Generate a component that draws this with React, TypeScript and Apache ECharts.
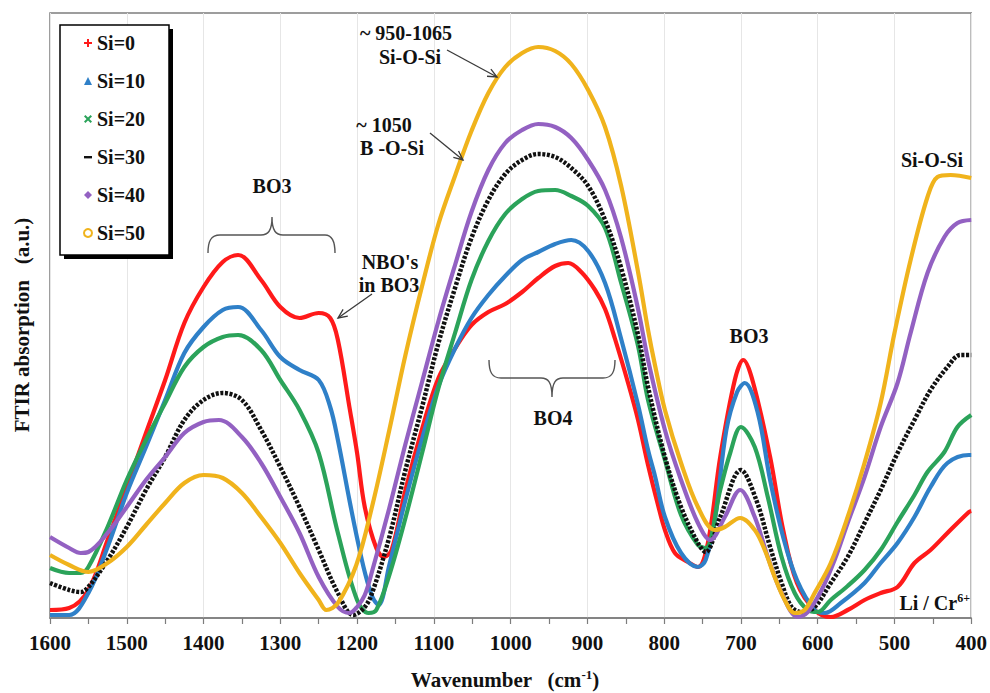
import React, { useEffect, useRef } from 'react';
import * as echarts from 'echarts';

// ---------- data (wavenumber cm-1, absorption a.u.) ----------
const seriesNames = ['Si=0', 'Si=10', 'Si=20', 'Si=30', 'Si=40', 'Si=50'];
const seriesColors = ['#ff1a1a', '#2f80c8', '#2ba35a', '#111111', '#9361c2', '#f0b31c'];

const si0: [number, number][] = [
  [1600, 0.8], [1575, 1.0], [1550, 2.8], [1525, 7.8], [1500, 13.1], [1475, 18.5], [1450, 23.8],
  [1425, 29.5], [1400, 33.1], [1375, 35.6], [1355, 36.3], [1325, 33.8], [1300, 31.1], [1275, 30.0],
  [1250, 30.5], [1235, 30.0], [1225, 27.8], [1210, 21.1], [1200, 16.5], [1190, 11.1], [1175, 7.0],
  [1165, 6.1], [1155, 6.8], [1137, 12.8], [1115, 19.0], [1094, 24.0], [1072, 27.0], [1051, 29.3],
  [1029, 30.6], [1007, 31.4], [985, 32.6], [964, 34.0], [942, 35.2], [925, 35.5], [908, 34.6],
  [890, 32.8], [877, 30.9], [864, 27.9], [847, 23.5], [834, 19.8], [821, 15.3], [808, 11.3],
  [799, 8.8], [786, 6.5], [769, 5.6], [756, 5.1], [743, 7.5], [727, 16.1], [708, 23.8], [697, 25.8],
  [684, 23.5], [662, 16.1], [645, 8.8], [627, 3.5], [604, 0.8], [583, 0.1], [561, 0.8], [539, 1.8],
  [518, 2.5], [496, 3.1], [474, 5.5], [453, 6.8], [431, 8.5], [403, 10.6], [400, 10.7],
];

const si10: [number, number][] = [
  [1600, 0.3], [1575, 0.3], [1550, 2.5], [1525, 7.1], [1500, 12.5], [1475, 17.1], [1450, 21.8],
  [1425, 26.5], [1400, 29.1], [1375, 30.8], [1355, 31.1], [1325, 28.8], [1300, 26.1], [1275, 24.8],
  [1250, 23.8], [1235, 21.1], [1225, 17.8], [1210, 11.8], [1200, 8.0], [1190, 4.6], [1180, 2.1],
  [1172, 1.3], [1158, 5.3], [1137, 11.8], [1115, 18.0], [1094, 23.2], [1072, 27.0], [1051, 30.0],
  [1029, 32.3], [1007, 34.2], [985, 35.8], [964, 36.6], [942, 37.4], [921, 37.8], [899, 36.7],
  [877, 33.5], [856, 27.9], [834, 21.3], [821, 16.8], [812, 14.2], [799, 10.1], [778, 6.5],
  [756, 5.1], [746, 5.8], [734, 9.8], [719, 18.8], [705, 22.6], [695, 23.5], [678, 20.5],
  [662, 13.8], [645, 8.1], [627, 3.8], [604, 0.8], [591, 0.5], [570, 1.5], [539, 3.5], [518, 5.5],
  [496, 7.5], [474, 10.1], [453, 13.1], [431, 15.5], [403, 16.3], [400, 16.3],
];

const si20: [number, number][] = [
  [1600, 5.0], [1575, 4.5], [1560, 4.5], [1550, 5.1], [1525, 9.1], [1500, 13.8], [1475, 17.8],
  [1450, 21.5], [1425, 25.1], [1400, 27.1], [1375, 28.1], [1355, 28.3], [1325, 26.8], [1300, 23.8],
  [1275, 20.8], [1250, 16.5], [1225, 8.5], [1200, 1.8], [1185, 0.5], [1175, 0.8], [1158, 4.3],
  [1137, 10.0], [1115, 16.6], [1094, 23.0], [1072, 28.6], [1051, 33.8], [1029, 37.7], [1007, 40.4],
  [985, 41.9], [964, 42.7], [942, 42.8], [921, 42.2], [899, 41.2], [877, 39.0], [856, 33.5],
  [834, 27.2], [821, 21.8], [799, 15.8], [778, 10.3], [756, 7.3], [746, 7.0], [727, 12.8],
  [714, 16.5], [700, 19.1], [682, 17.1], [665, 12.1], [647, 6.1], [630, 2.5], [613, 0.8],
  [600, 0.6], [583, 1.8], [561, 3.2], [539, 4.8], [518, 6.8], [496, 9.6], [474, 12.3], [457, 14.6],
  [435, 16.6], [418, 19.1], [400, 20.3],
];

const si30: [number, number][] = [
  [1600, 3.5], [1575, 2.8], [1560, 2.6], [1550, 3.1], [1525, 5.8], [1500, 9.1], [1475, 12.8],
  [1450, 16.1], [1425, 19.8], [1400, 21.8], [1375, 22.5], [1350, 21.8], [1325, 18.8], [1300, 15.1],
  [1275, 11.1], [1250, 6.8], [1225, 2.5], [1205, 0.3], [1190, 1.1], [1180, 2.6], [1158, 8.1],
  [1137, 14.8], [1115, 21.2], [1094, 27.5], [1072, 33.1], [1051, 38.0], [1029, 41.8], [1007, 44.4],
  [985, 45.8], [964, 46.4], [942, 46.1], [921, 45.0], [899, 43.2], [877, 39.8], [856, 35.0],
  [834, 28.3], [821, 23.1], [799, 16.1], [778, 11.1], [756, 7.5], [746, 6.6], [727, 10.1],
  [700, 14.8], [680, 11.8], [662, 7.1], [647, 3.5], [634, 1.1], [621, 0.6], [604, 1.1], [583, 3.5],
  [561, 6.1], [539, 9.5], [518, 12.8], [496, 16.5], [474, 19.8], [453, 22.8], [431, 25.1],
  [414, 26.3], [400, 26.3],
];

const si40: [number, number][] = [
  [1600, 8.1], [1575, 7.0], [1560, 6.5], [1550, 6.6], [1525, 8.5], [1500, 11.1], [1475, 13.8],
  [1450, 16.1], [1425, 18.5], [1400, 19.6], [1380, 19.8], [1350, 18.1], [1325, 15.5], [1300, 12.1],
  [1275, 8.5], [1250, 4.1], [1225, 1.1], [1210, 0.5], [1200, 1.1], [1190, 2.3], [1180, 4.8],
  [1158, 11.0], [1137, 17.4], [1115, 23.7], [1094, 29.7], [1072, 35.4], [1051, 40.6], [1029, 44.8],
  [1007, 47.5], [985, 48.8], [964, 49.4], [942, 49.1], [921, 48.0], [899, 45.8], [877, 42.8],
  [856, 38.0], [834, 30.9], [821, 25.8], [799, 18.8], [778, 13.8], [756, 9.5], [740, 7.8],
  [721, 10.1], [701, 12.8], [682, 10.1], [665, 6.1], [647, 2.5], [626, 0.1], [613, 0.6], [595, 2.8],
  [578, 5.8], [561, 9.5], [539, 14.1], [518, 19.1], [496, 23.5], [479, 28.5], [457, 34.5],
  [435, 38.1], [418, 39.5], [400, 39.8],
];

const si50: [number, number][] = [
  [1600, 6.3], [1575, 5.3], [1550, 4.6], [1525, 5.5], [1500, 7.1], [1475, 9.3], [1450, 11.5],
  [1425, 13.5], [1400, 14.3], [1375, 14.0], [1350, 12.5], [1325, 10.1], [1300, 7.5], [1275, 4.5],
  [1250, 1.8], [1240, 0.8], [1225, 1.5], [1201, 5.3], [1180, 11.3], [1158, 18.8], [1137, 26.3],
  [1115, 33.3], [1094, 39.4], [1072, 44.3], [1051, 48.7], [1029, 52.5], [1007, 55.1], [985, 56.5],
  [964, 57.1], [942, 56.7], [921, 55.4], [899, 52.8], [877, 49.1], [856, 43.2], [834, 34.6],
  [821, 28.8], [812, 25.3], [799, 20.8], [778, 15.5], [756, 11.1], [734, 8.8], [721, 9.1],
  [701, 10.0], [682, 8.8], [669, 6.8], [656, 4.1], [643, 1.8], [630, 0.5], [617, 0.8], [604, 2.5],
  [583, 5.5], [561, 10.1], [539, 15.5], [518, 21.5], [500, 28.5], [479, 35.8], [457, 42.1],
  [444, 44.1], [427, 44.3], [400, 44.0],
];

const seriesData = [si0, si10, si20, si30, si40, si50];

const xMin = 400;
const xMax = 1600;
const xStep = 100;
const yMax = 60.5;

// ---------- styling ----------
const SERIF = 'Liberation Serif';
const legendIcons = [
  'path://M3,0h2v3h3v2h-3v3h-2v-3h-3v-2h3z',
  'triangle',
  'path://M0,1.4L1.4,0L4,2.6L6.6,0L8,1.4L5.4,4L8,6.6L6.6,8L4,5.4L1.4,8L0,6.6L2.6,4z',
  'path://M0,0L0,0M0,3h8v2.4h-8zM8,8L8,8',
  'diamond',
  'emptyCircle',
];

let shapesRegistered = false;
function registerShapes() {
  if (shapesRegistered) return;
  shapesRegistered = true;
  echarts.graphic.registerShape(
    'braceDown',
    echarts.graphic.extendPath(
      'M208,253 C208,241 211,235 220,235 L261,235 C268,235 272,231 272,217 C272,231 276,235 283,235 L325,235 C332,235 335,241 335,253',
      {}
    )
  );
  echarts.graphic.registerShape(
    'braceUp',
    echarts.graphic.extendPath(
      'M489,360 C489,372 492,378 501,378 L541,378 C548,378 552,382 552,397 C552,382 556,378 563,378 L603,378 C612,378 615,372 615,360',
      {}
    )
  );
}

function arrow(x1: number, y1: number, x2: number, y2: number) {
  const a = Math.atan2(y2 - y1, x2 - x1);
  const len = 10;
  const spread = 0.42;
  const p1 = [x2 - len * Math.cos(a - spread), y2 - len * Math.sin(a - spread)];
  const p2 = [x2 - len * Math.cos(a + spread), y2 - len * Math.sin(a + spread)];
  const stroke = { stroke: '#3a3a3a', lineWidth: 1.3, fill: 'none' };
  return [
    { type: 'line', shape: { x1, y1, x2, y2 }, style: stroke, z: 20 },
    { type: 'polyline', shape: { points: [p1, [x2, y2], p2] }, style: stroke, z: 20 },
  ];
}

function label(text: string, x: number, y: number, align = 'center', size = 20) {
  return {
    type: 'text',
    x,
    y,
    z: 20,
    style: {
      text,
      fontSize: size,
      fontWeight: 'bold',
      fontFamily: SERIF,
      fill: '#111',
      align,
      verticalAlign: 'middle',
      textAlign: align,
      textVerticalAlign: 'middle',
    },
  };
}

export default function App() {
  const ref = useRef<HTMLDivElement>(null);

  useEffect(() => {
    if (!ref.current) return;
    registerShapes();
    const chart = echarts.init(ref.current, undefined, { renderer: 'svg' });

    const series = seriesNames.map((name, i) => ({
      name,
      type: 'line',
      data: seriesData[i],
      smooth: 0.35,
      showSymbol: false,
      symbol: 'none',
      color: seriesColors[i],
      lineStyle: {
        color: seriesColors[i],
        width: i === 3 ? 4.5 : 4.2,
        type: i === 3 ? [3, 1.6] : 'solid',
      },
      emphasis: { disabled: true },
      z: 3 + i,
    }));

    const graphic: any[] = [
      // legend frame with shadow
      { type: 'rect', shape: { x: 64, y: 29, width: 109, height: 230 }, style: { fill: '#000' }, z: 1 },
      {
        type: 'rect',
        shape: { x: 60, y: 25, width: 109, height: 230 },
        style: { fill: '#fff', stroke: '#000', lineWidth: 1.5 },
        z: 2,
      },
      // braces
      { type: 'braceDown', x: 0, y: 0, style: { stroke: '#555', lineWidth: 1.4, fill: 'none' }, z: 20 },
      { type: 'braceUp', x: 0, y: 0, style: { stroke: '#555', lineWidth: 1.4, fill: 'none' }, z: 20 },
      label('BO3', 272, 186),
      label("NBO's", 390, 262),
      label('in BO3', 389, 285),
      label('~ 950-1065', 406, 33),
      label('Si-O-Si', 410, 57),
      label('~ 1050', 384, 125),
      label('B -O-Si', 392, 148),
      label('BO4', 553, 418),
      label('BO3', 749, 336),
      label('Si-O-Si', 932, 160),
      ...arrow(372, 294, 338, 318),
      ...arrow(447, 50, 497, 77),
      ...arrow(430, 133, 463, 160),
      {
        type: 'text',
        x: 970,
        y: 603,
        z: 20,
        style: {
          text: '{t|Li / Cr}{s|6+}',
          align: 'right',
          verticalAlign: 'middle',
          textAlign: 'right',
          textVerticalAlign: 'middle',
          rich: {
            t: { fontSize: 20, fontWeight: 'bold', fontFamily: SERIF, fill: '#111', color: '#111', lineHeight: 22 },
            s: {
              fontSize: 12,
              fontWeight: 'bold',
              fontFamily: SERIF,
              fill: '#111',
              color: '#111',
              lineHeight: 12,
              verticalAlign: 'top',
            },
          },
        },
      },
      // axis titles
      {
        type: 'text',
        x: 505,
        y: 680,
        z: 20,
        style: {
          text: '{t|Wavenumber   (cm}{s|-1}{t|)}',
          align: 'center',
          verticalAlign: 'middle',
          textAlign: 'center',
          textVerticalAlign: 'middle',
          rich: {
            t: { fontSize: 21, fontWeight: 'bold', fontFamily: SERIF, fill: '#111', color: '#111', lineHeight: 24 },
            s: {
              fontSize: 13,
              fontWeight: 'bold',
              fontFamily: SERIF,
              fill: '#111',
              color: '#111',
              lineHeight: 14,
              verticalAlign: 'top',
            },
          },
        },
      },
      {
        type: 'text',
        x: 22,
        y: 325,
        rotation: Math.PI / 2,
        z: 20,
        style: {
          text: 'FTIR absorption   (a.u.)',
          fontSize: 21,
          fontWeight: 'bold',
          fontFamily: SERIF,
          fill: '#111',
          align: 'center',
          verticalAlign: 'middle',
          textAlign: 'center',
          textVerticalAlign: 'middle',
        },
      },
    ];

    chart.setOption({
      animation: false,
      backgroundColor: '#ffffff',
      textStyle: { fontFamily: SERIF },
      grid: {
        left: 50,
        right: 16,
        top: 13,
        bottom: 75,
        show: true,
        borderColor: '#7d7d7d',
        borderWidth: 1.5,
        backgroundColor: 'transparent',
      },
      legend: {
        orient: 'vertical',
        left: 83,
        top: 33,
        padding: 0,
        itemWidth: 8,
        itemHeight: 8,
        itemGap: 18,
        selectedMode: false,
        z: 10,
        data: seriesNames.map((name, i) => ({
          name,
          icon: legendIcons[i],
          itemStyle: { color: seriesColors[i], borderColor: seriesColors[i], borderWidth: i === 5 ? 1.5 : 0 },
        })),
        textStyle: {
          fontSize: 20,
          fontWeight: 'bold',
          fontFamily: SERIF,
          color: '#111',
          lineHeight: 20,
        },
      },
      xAxis: {
        type: 'value',
        inverse: true,
        min: xMin,
        max: xMax,
        interval: xStep,
        axisLine: { show: true, lineStyle: { color: '#7d7d7d', width: 1.5 } },
        axisTick: { show: true, inside: false, length: 6, lineStyle: { color: '#7d7d7d', width: 1.2 } },
        minorTick: { show: true, splitNumber: 2, length: 6, lineStyle: { color: '#7d7d7d', width: 1.2 } },
        splitLine: { show: true, lineStyle: { color: '#e6e6e6', width: 1 } },
        axisLabel: {
          margin: 14,
          fontSize: 21,
          fontWeight: 'bold',
          fontFamily: SERIF,
          color: '#111',
          formatter: (v: number) => String(v),
        },
      },
      yAxis: {
        type: 'value',
        min: 0,
        max: yMax,
        axisLine: { show: false },
        axisTick: { show: false },
        axisLabel: { show: false },
        splitLine: { show: false },
      },
      series,
      graphic,
    });

    return () => {
      chart.dispose();
    };
  }, []);

  return (
    <div
      ref={ref}
      style={{ position: 'absolute', left: 0, top: 0, width: 990, height: 693, background: '#fff' }}
    />
  );
}
